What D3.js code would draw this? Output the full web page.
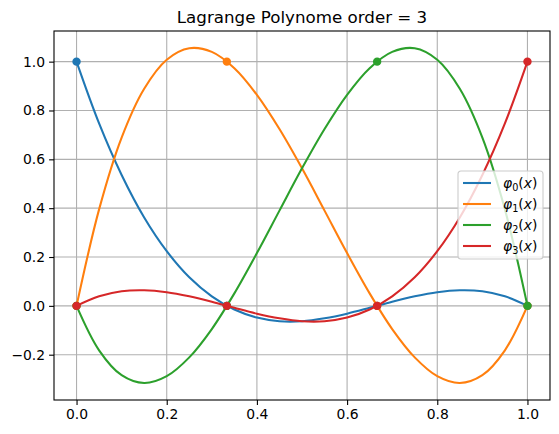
<!DOCTYPE html>
<html>
<head>
<meta charset="utf-8">
<script src="https://cdn.jsdelivr.net/npm/d3@7"></script>
<style>
  body { margin: 0; background: #fff; }
  svg { font-family: "DejaVu Sans", sans-serif; }
</style>
</head>
<body>
<div class="chart"></div>
<script>
// values
var xs = [0, 0.05, 0.1, 0.15, 0.2, 0.25, 0.3, 0.35, 0.4, 0.45, 0.5, 0.55, 0.6, 0.65, 0.7, 0.75, 0.8, 0.85, 0.9, 0.95, 1];
var phi0 = [1, 0.747, 0.536, 0.362, 0.224, 0.117, 0.039, -0.015, -0.048, -0.063, -0.063, -0.051, -0.032, -0.008, 0.017, 0.039, 0.056, 0.064, 0.060, 0.039, 0];
var phi1 = [0, 0.395, 0.689, 0.889, 1.008, 1.055, 1.040, 0.973, 0.864, 0.724, 0.563, 0.390, 0.216, 0.051, -0.095, -0.211, -0.288, -0.316, -0.284, -0.182, 0];
var phi2 = [0, -0.182, -0.284, -0.316, -0.288, -0.211, -0.095, 0.051, 0.216, 0.390, 0.563, 0.724, 0.864, 0.973, 1.040, 1.055, 1.008, 0.889, 0.689, 0.395, 0];
var phi3 = [0, 0.039, 0.060, 0.064, 0.056, 0.039, 0.017, -0.008, -0.032, -0.051, -0.063, -0.063, -0.048, -0.015, 0.039, 0.117, 0.224, 0.362, 0.536, 0.747, 1];
var nodesX = [0, 1 / 3, 2 / 3, 1];
var nodes0 = [1, 0, 0, 0];
var nodes1 = [0, 1, 0, 0];
var nodes2 = [0, 0, 1, 0];
var nodes3 = [0, 0, 0, 1];
var xTicks = [0, 0.2, 0.4, 0.6, 0.8, 1.0];
var yTicks = [-0.2, 0, 0.2, 0.4, 0.6, 0.8, 1.0];
var titleText = "Lagrange Polynome order = 3";

var series = [
  {vals: phi0, nodes: nodes0, color: "#1f77b4", sub: "0"},
  {vals: phi1, nodes: nodes1, color: "#ff7f0e", sub: "1"},
  {vals: phi2, nodes: nodes2, color: "#2ca02c", sub: "2"},
  {vals: phi3, nodes: nodes3, color: "#d62728", sub: "3"}
];

var svgWidth = 559;
var svgHeight = 434;
var margin = {top: 31, right: 9, bottom: 34, left: 54};
var width = svgWidth - margin.left - margin.right;
var height = svgHeight - margin.top - margin.bottom;

var svg = d3.select(".chart").append("svg")
  .attr("width", svgWidth)
  .attr("height", svgHeight);

var chart = svg.append("g")
  .attr("transform", "translate(" + margin.left + "," + margin.top + ")");

var x = d3.scaleLinear().domain([-0.05, 1.05]).range([0, width]);
var y = d3.scaleLinear().domain([-0.3855, 1.1255]).range([height, 0]);

// grid
chart.append("g").selectAll("line").data(xTicks).enter().append("line")
  .attr("x1", function(d) { return x(d); }).attr("x2", function(d) { return x(d); })
  .attr("y1", 0).attr("y2", height)
  .attr("stroke", "#b0b0b0").attr("stroke-width", 1.1);
chart.append("g").selectAll("line").data(yTicks).enter().append("line")
  .attr("y1", function(d) { return y(d); }).attr("y2", function(d) { return y(d); })
  .attr("x1", 0).attr("x2", width)
  .attr("stroke", "#b0b0b0").attr("stroke-width", 1.1);

// curves + node markers
var line = d3.line()
  .x(function(d) { return x(d[0]); })
  .y(function(d) { return y(d[1]); })
  .curve(d3.curveCatmullRom.alpha(0.5));

var plot = chart.append("g");
series.forEach(function(s) {
  plot.append("path")
    .datum(xs.map(function(v, i) { return [v, s.vals[i]]; }))
    .attr("d", line)
    .attr("fill", "none")
    .attr("stroke", s.color)
    .attr("stroke-width", 2.08);
  plot.selectAll(null).data(nodesX.map(function(v, i) { return [v, s.nodes[i]]; }))
    .enter().append("circle")
    .attr("cx", function(d) { return x(d[0]); })
    .attr("cy", function(d) { return y(d[1]); })
    .attr("r", 4.2)
    .attr("fill", s.color);
});

// axes
var fmt = function(d) { return d3.format(".1f")(d).replace("-", "\u2212"); };
var bottomAxis = d3.axisBottom(x).tickValues(xTicks).tickFormat(fmt).tickSizeInner(4.9).tickSizeOuter(0).tickPadding(4);
var leftAxis = d3.axisLeft(y).tickValues(yTicks).tickFormat(fmt).tickSizeInner(4.9).tickSizeOuter(0).tickPadding(4);

var gx = chart.append("g").attr("transform", "translate(0," + height + ")").call(bottomAxis);
var gy = chart.append("g").call(leftAxis);
[gx, gy].forEach(function(g) {
  g.select(".domain").remove();
  g.selectAll("line").attr("stroke", "#000").attr("stroke-width", 1.1);
  g.selectAll("text").attr("fill", "#000").style("font-size", "13.9px").style("font-family", "DejaVu Sans");
});

chart.append("rect")
  .attr("width", width).attr("height", height)
  .attr("fill", "none").attr("stroke", "#000").attr("stroke-width", 1.1);

// title
svg.append("text")
  .attr("x", margin.left + width / 2)
  .attr("y", 23)
  .attr("text-anchor", "middle")
  .style("font-size", "16.7px")
  .text(titleText);

// legend
var legend = svg.append("g").attr("transform", "translate(458,171)");
legend.append("rect")
  .attr("width", 85).attr("height", 88).attr("rx", 3)
  .attr("fill", "#fff").attr("fill-opacity", 0.8)
  .attr("stroke", "#cccccc").attr("stroke-width", 1.1);
series.forEach(function(s, i) {
  var ly = 12 + i * 21;
  legend.append("line")
    .attr("x1", 5).attr("x2", 33).attr("y1", ly).attr("y2", ly)
    .attr("stroke", s.color).attr("stroke-width", 2.08);
  var t = legend.append("text")
    .attr("x", 45).attr("y", ly + 5)
    .style("font-size", "13.9px");
  t.append("tspan").style("font-style", "italic").text("\u03c6");
  t.append("tspan").attr("dy", 3).style("font-size", "9.7px").text(s.sub);
  t.append("tspan").attr("dy", -3).text("(");
  t.append("tspan").style("font-style", "italic").text("x");
  t.append("tspan").text(")");
});
</script>
</body>
</html>
